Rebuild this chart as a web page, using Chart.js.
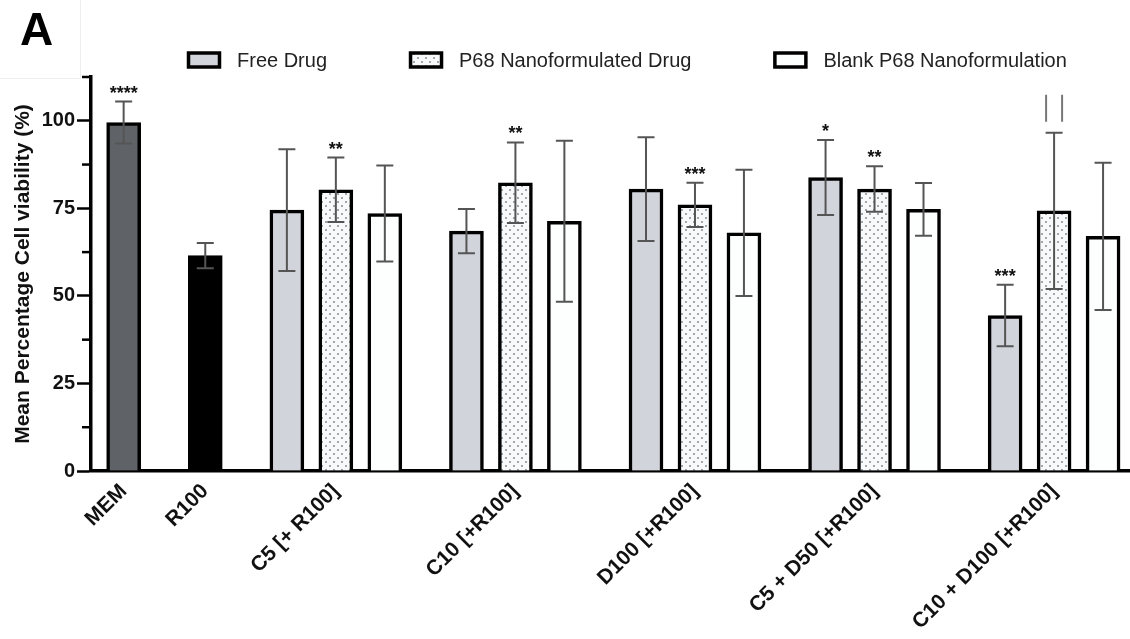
<!DOCTYPE html>
<html>
<head>
<meta charset="utf-8">
<script src="https://cdn.jsdelivr.net/npm/chart.js@4.4.0/dist/chart.umd.min.js"></script>
<style>
  html, body { margin: 0; padding: 0; background: #fff; }
</style>
</head>
<body>
<canvas id="viability" width="1130" height="639"></canvas>
<script>
const categories = ["MEM", "R100", "C5 [+ R100]", "C10 [+R100]", "D100 [+R100]", "C5 + D50 [+R100]", "C10 + D100 [+R100]"];
const seriesNames = ["Free Drug", "P68 Nanoformulated Drug", "Blank P68 Nanoformulation"];

const memValue = 99.5, memErr = 6.0, memSig = "****";
const r100Value = 61.5, r100Err = 3.6;

const freeDrug    = [74.5, 68.5, 80.5, 83.8, 44.4];
const freeDrugErr = [17.4, 6.3, 14.8, 10.7, 8.8];
const freeDrugSig = ["", "", "", "*", "***"];

const p68Drug     = [80.3, 82.3, 76.0, 80.5, 74.3];
const p68DrugErr  = [9.2, 11.5, 6.3, 6.5, 22.3];
const p68DrugSig  = ["**", "**", "***", "**", "||"];

const blankP68    = [73.5, 71.3, 68.0, 74.7, 67.0];
const blankP68Err = [13.7, 23.0, 18.0, 7.5, 21.0];
const blankP68Sig = ["", "", "", "", ""];

const yMax = 112.5;
const yStep = 12.5;
const yLabelEvery = 25;

const FONT = "'Liberation Sans', Arial, sans-serif";

// slot positions on the linear x axis: singles 5 apart, groups of 3 bars (3 apart), 5 between groups
const groupX = (g, k) => 10 + 11 * g + 3 * k;
const labelPos = [0, 5].concat(freeDrug.map((_, g) => groupX(g, 1)));

function dotPattern() {
    const c = document.createElement("canvas");
    c.width = 8; c.height = 8;
    const g = c.getContext("2d");
    g.fillStyle = "#f8f9fa";
    g.fillRect(0, 0, 8, 8);
    g.fillStyle = "#878b90";
    [[2, 2], [6, 6]].forEach(([x, y]) => {
        g.beginPath();
        g.arc(x, y, 1, 0, Math.PI * 2);
        g.fill();
    });
    return g.createPattern(c, "repeat");
}

function series(label, values, errs, sigs, k, color, inLegend) {
    return {
        label,
        data: values.map((v, g) => ({ x: groupX(g, k), y: v })),
        errors: errs,
        sig: sigs,
        inLegend,
        backgroundColor: color,
        borderColor: "#000",
        borderWidth: 3.5,
        barThickness: 34,
        grouped: false
    };
}

function single(label, x, value, err, sig, color) {
    return {
        label,
        data: [{ x, y: value }],
        errors: [err],
        sig: [sig],
        inLegend: false,
        backgroundColor: color,
        borderColor: "#000",
        borderWidth: 3.5,
        barThickness: 34,
        grouped: false
    };
}

const datasets = [
    single("MEM", 0, memValue, memErr, memSig, "#5f6267"),
    single("R100", 5, r100Value, r100Err, "", "#000000"),
    series(seriesNames[0], freeDrug, freeDrugErr, freeDrugSig, 0, "#d2d4db", true),
    series(seriesNames[1], p68Drug, p68DrugErr, p68DrugSig, 1, dotPattern(), true),
    series(seriesNames[2], blankP68, blankP68Err, blankP68Sig, 2, "#fdfefe", true)
];

// error bars, significance marks, minor ticks, legend and panel letter
const decorations = {
    id: "decorations",
    afterDatasetsDraw(chart) {
        const ctx = chart.ctx;
        const y = chart.scales.y;
        ctx.save();
        chart.data.datasets.forEach((ds, di) => {
            const meta = chart.getDatasetMeta(di);
            meta.data.forEach((bar, i) => {
                const v = ds.data[i].y, e = ds.errors[i];
                const top = y.getPixelForValue(v + e);
                const bot = y.getPixelForValue(v - e);
                ctx.strokeStyle = "#555";
                ctx.lineWidth = 2;
                ctx.beginPath();
                ctx.moveTo(bar.x, top); ctx.lineTo(bar.x, bot);
                ctx.moveTo(bar.x - 8.5, top); ctx.lineTo(bar.x + 8.5, top);
                ctx.moveTo(bar.x - 8.5, bot); ctx.lineTo(bar.x + 8.5, bot);
                ctx.stroke();

                const s = ds.sig[i];
                if (s === "||") {
                    ctx.strokeStyle = "#777";
                    ctx.lineWidth = 2;
                    ctx.beginPath();
                    ctx.moveTo(bar.x - 8, top - 38); ctx.lineTo(bar.x - 8, top - 11);
                    ctx.moveTo(bar.x + 8, top - 38); ctx.lineTo(bar.x + 8, top - 11);
                    ctx.stroke();
                } else if (s) {
                    ctx.fillStyle = "#111";
                    ctx.font = "bold 18px " + FONT;
                    ctx.textAlign = "center";
                    ctx.textBaseline = "alphabetic";
                    ctx.fillText(s, bar.x, top - 3);
                }
            });
        });

        // minor ticks
        const ax = chart.chartArea.left;
        ctx.strokeStyle = "#000";
        ctx.lineWidth = 2.5;
        y.ticks.forEach(t => {
            if (t.value % yLabelEvery !== 0) {
                const py = y.getPixelForValue(t.value);
                ctx.beginPath();
                ctx.moveTo(ax - 9, py); ctx.lineTo(ax, py);
                ctx.stroke();
            }
        });

        // legend
        ctx.font = "20px " + FONT;
        ctx.textAlign = "left";
        ctx.textBaseline = "middle";
        let lx = 187;
        const ly = 60;
        chart.data.datasets.filter(d => d.inLegend).forEach(d => {
            ctx.fillStyle = d.backgroundColor;
            ctx.fillRect(lx, ly - 8, 34, 16);
            ctx.strokeStyle = "#000";
            ctx.lineWidth = 3.5;
            ctx.strokeRect(lx + 1.5, ly - 7, 31, 14);
            ctx.fillStyle = "#222";
            ctx.fillText(d.label, lx + 50, ly + 1);
            lx += 50 + ctx.measureText(d.label).width + 82;
        });

        // panel letter and faint frame
        ctx.strokeStyle = "#ededed";
        ctx.lineWidth = 1;
        ctx.beginPath();
        ctx.moveTo(80.5, 0); ctx.lineTo(80.5, 78.5); ctx.lineTo(0, 78.5);
        ctx.stroke();
        ctx.fillStyle = "#000";
        ctx.font = "bold 46px " + FONT;
        ctx.textBaseline = "alphabetic";
        ctx.fillText("A", 20, 45);
        ctx.restore();
    }
};

new Chart(document.getElementById("viability"), {
    type: "bar",
    data: { datasets },
    plugins: [decorations],
    options: {
        responsive: false,
        animation: false,
        devicePixelRatio: 1,
        layout: { padding: { top: 77, right: 0, left: 0, bottom: 0 } },
        plugins: { legend: { display: false }, tooltip: { enabled: false } },
        scales: {
            x: {
                type: "linear",
                min: -2,
                max: 61.65,
                offset: false,
                afterBuildTicks: s => { s.ticks = labelPos.map(v => ({ value: v })); },
                afterFit: s => { s.height = 168; },
                grid: { display: true, drawOnChartArea: false, drawTicks: false },
                border: { color: "#000", width: 3.5 },
                ticks: {
                    autoSkip: false,
                    minRotation: 45,
                    maxRotation: 45,
                    padding: 8,
                    color: "#111",
                    font: { family: FONT, size: 21, weight: "bold" },
                    callback: (v, i) => categories[i]
                }
            },
            y: {
                min: 0,
                max: yMax,
                afterFit: s => { s.width = 91; },
                grid: {
                    drawOnChartArea: false,
                    drawTicks: true,
                    tickLength: 14,
                    tickWidth: 2.5,
                    tickColor: c => (c.tick && c.tick.value % yLabelEvery === 0) ? "#000" : "rgba(0,0,0,0)"
                },
                border: { color: "#000", width: 3.5 },
                ticks: {
                    stepSize: yStep,
                    padding: 2,
                    color: "#111",
                    font: { family: FONT, size: 20, weight: "bold" },
                    callback: v => (v % yLabelEvery === 0 ? v : "")
                },
                title: {
                    display: true,
                    text: "Mean Percentage Cell viability (%)",
                    color: "#111",
                    font: { family: FONT, size: 21, weight: "bold" },
                    padding: { top: 11, bottom: 0 }
                }
            }
        }
    }
});
</script>
</body>
</html>
